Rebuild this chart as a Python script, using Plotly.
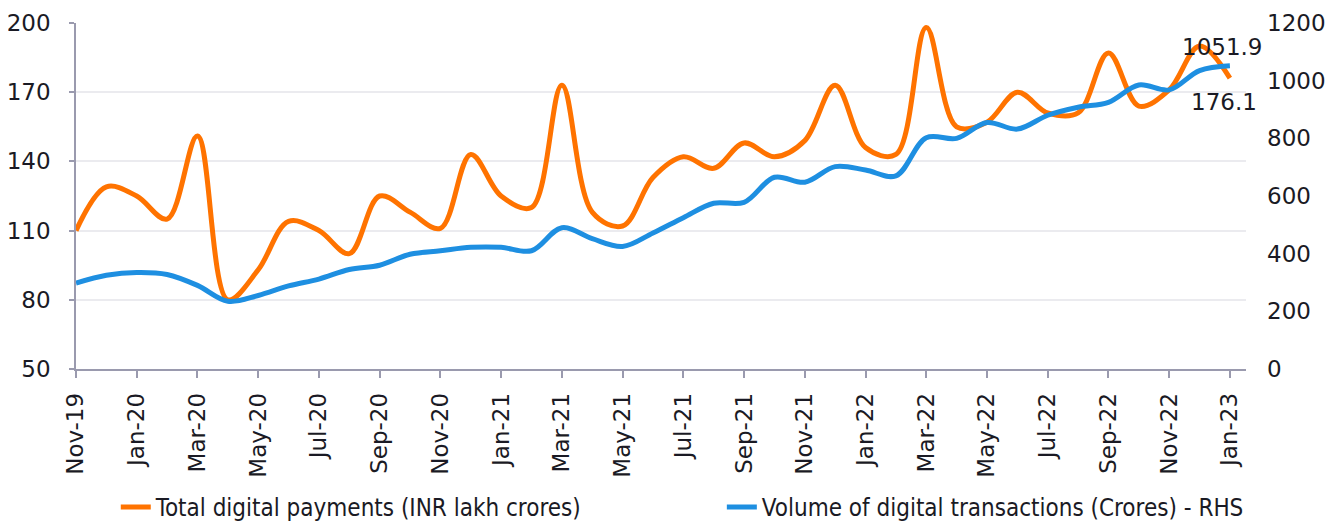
import plotly.graph_objects as go

months = ["Nov-19","Dec-19","Jan-20","Feb-20","Mar-20","Apr-20","May-20","Jun-20","Jul-20","Aug-20",
          "Sep-20","Oct-20","Nov-20","Dec-20","Jan-21","Feb-21","Mar-21","Apr-21","May-21","Jun-21",
          "Jul-21","Aug-21","Sep-21","Oct-21","Nov-21","Dec-21","Jan-22","Feb-22","Mar-22","Apr-22",
          "May-22","Jun-22","Jul-22","Aug-22","Sep-22","Oct-22","Nov-22","Dec-22","Jan-23"]

payments = [110, 129, 125, 115, 151, 80, 93, 114, 110, 100,
            125, 118, 111, 143, 125, 120, 173, 118, 112, 133,
            142, 137, 148, 142, 149, 173, 146, 143, 198, 155,
            157, 170, 161, 161, 187, 164, 171, 190, 176.1]

volume = [298, 325, 335, 328, 290, 235, 255, 288, 312, 345,
          360, 398, 410, 422, 422, 410, 490, 452, 425, 472,
          525, 575, 578, 665, 648, 702, 690, 670, 802, 800,
          855, 832, 880, 908, 925, 985, 968, 1035, 1051.9]

tick_labels = months[::2]
left_ticks = [50, 80, 110, 140, 170, 200]
right_ticks = [0, 200, 400, 600, 800, 1000, 1200]

name_pay = "Total digital payments (INR lakh crores)"
name_vol = "Volume of digital transactions (Crores) - RHS"

ORANGE = "#FF7300"
BLUE = "#1E8FE1"
AXIS = "#9A9AAE"
GRID = "#EBEBEF"
TXT = "#1A1A24"

fig = go.Figure()
fig.add_trace(go.Scatter(x=months, y=payments, name=name_pay, mode="lines", showlegend=True,
                         line=dict(color=ORANGE, width=5, shape="spline", smoothing=1.0),
                         legend="legend", yaxis="y"))
fig.add_trace(go.Scatter(x=months, y=volume, name=name_vol, mode="lines", showlegend=True,
                         line=dict(color=BLUE, width=5, shape="spline", smoothing=1.0),
                         legend="legend2", yaxis="y2"))

fig.add_annotation(x=months[-1], y=volume[-1], yref="y2", text=f"{volume[-1]:.1f}",
                   showarrow=False, xshift=-8, yshift=19, font=dict(size=23, color=TXT))
fig.add_annotation(x=months[-1], y=payments[-1], yref="y", text=f"{payments[-1]:.1f}",
                   showarrow=False, xshift=-6, yshift=-24, font=dict(size=23, color=TXT))

fig.update_layout(
    width=1331, height=515, showlegend=True,
    margin=dict(l=68, r=93, t=15, b=154, autoexpand=False),
    paper_bgcolor="white", plot_bgcolor="white",
    font=dict(family="DejaVu Sans", size=23, color=TXT),
    xaxis=dict(type="category", range=[0, 38.53], tickmode="array", tickvals=tick_labels,
               ticktext=tick_labels, tickangle=-90, showgrid=False, showline=True,
               linecolor=AXIS, linewidth=1.5, ticks="outside", ticklen=7, tickcolor=AXIS,
               tickwidth=1.5, ticklabelstandoff=6, tickfont=dict(size=23), zeroline=False,
               automargin=False),
    yaxis=dict(range=[50, 200], tickvals=left_ticks, showgrid=True, gridcolor=GRID, gridwidth=1.5,
               showline=True, linecolor=AXIS, linewidth=1.5, ticks="outside", ticklen=5,
               tickcolor=AXIS, tickwidth=1.5, ticklabelstandoff=14, zeroline=False,
               tickfont=dict(size=23), automargin=False),
    yaxis2=dict(range=[0, 1200], tickvals=right_ticks, overlaying="y", side="right",
                showgrid=False, showline=False, ticks="", ticklabelstandoff=20, zeroline=False,
                tickfont=dict(size=23), automargin=False),
    legend=dict(orientation="h", x=0.034, y=-0.335, xanchor="left", yanchor="top",
                font=dict(family="DejaVu Sans Condensed", size=24, color=TXT),
                bgcolor="rgba(0,0,0,0)"),
    legend2=dict(orientation="h", x=0.552, y=-0.335, xanchor="left", yanchor="top",
                 font=dict(family="DejaVu Sans Condensed", size=24, color=TXT),
                 bgcolor="rgba(0,0,0,0)"),
)

fig.write_html("out.html")
